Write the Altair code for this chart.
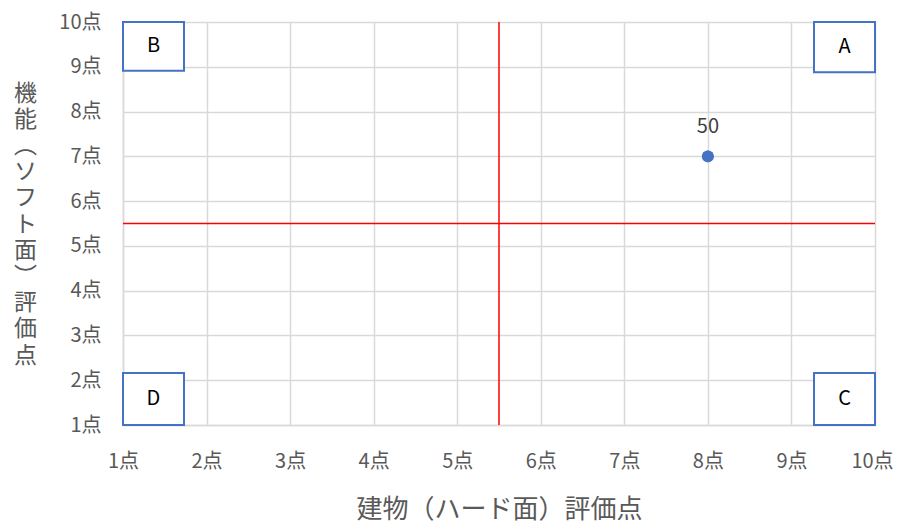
import altair as alt
import pandas as pd

# point data
pt_x = [8]
pt_y = [7]
pt_label = ["50"]

# quadrant boxes
box_names = ["A", "B", "C", "D"]
box_x1 = [9.27, 1.0, 9.27, 1.0]
box_x2 = [10.0, 1.73, 10.0, 1.73]
box_y1 = [8.88, 8.91, 1.0, 1.0]
box_y2 = [10.0, 10.0, 2.16, 2.16]

# threshold lines
vline = [5.5]
hline = [5.5]

ticks = list(range(1, 11))
x_title = "建物（ハード面）評価点"
y_title = ["機", "能", "︵", "ソ", "フ", "ト", "面", "︶", "評", "価", "点"]

FONT = "Noto Sans CJK JP"
GREY = "#595959"
GRID = "#d9d9d9"
BLUE = "#4472C4"

pts = pd.DataFrame({"x": pt_x, "y": pt_y, "label": pt_label})
boxes = pd.DataFrame({"name": box_names, "x1": box_x1, "x2": box_x2,
                      "y1": box_y1, "y2": box_y2})
boxes["cx"] = (boxes.x1 + boxes.x2) / 2
boxes["cy"] = (boxes.y1 + boxes.y2) / 2

xscale = alt.Scale(domain=[1, 10], nice=False, zero=False)
yscale = alt.Scale(domain=[1, 10], nice=False, zero=False)

xaxis = alt.Axis(values=ticks, labelExpr="datum.value + '点'", grid=True,
                 gridColor=GRID, gridWidth=1.5, domainColor=GRID, domainWidth=1.5,
                 ticks=False, labelPadding=26, labelFontSize=20, labelColor=GREY,
                 labelFont=FONT, labelFlush=False, labelOverlap=False,
                 labelOffset={"condition": {"test": "datum.value == 10", "value": -3}, "value": 0},
                 title=x_title, titleFont=FONT, titleFontSize=26,
                 titleFontWeight="normal", titleColor=GREY, titleY=84,
                 titleBaseline="middle")
yaxis = alt.Axis(values=ticks, labelExpr="datum.value + '点'", grid=True,
                 gridColor=GRID, gridWidth=1.5, domainColor=GRID, domainWidth=1.5,
                 ticks=False, labelPadding=22, labelFontSize=20, labelColor=GREY,
                 labelFont=FONT, labelFlush=False, labelOverlap=False,
                 title=y_title, titleFont=FONT, titleFontSize=23,
                 titleFontWeight="normal", titleColor=GREY, titleAngle=0,
                 titleX=-98, titleY=71, titleAlign="center",
                 titleBaseline="middle", titleLineHeight=26.2)

base_pts = alt.Chart(pts)

pt_layer = base_pts.mark_circle(size=140, color=BLUE, opacity=1).encode(
    x=alt.X("x:Q", scale=xscale, axis=xaxis),
    y=alt.Y("y:Q", scale=yscale, axis=yaxis),
)
pt_text = base_pts.mark_text(dy=-29, fontSize=20, font=FONT, color="#404040").encode(
    x=alt.X("x:Q", scale=xscale), y=alt.Y("y:Q", scale=yscale), text="label:N"
)

rects = alt.Chart(boxes).mark_rect(fill="white", stroke=BLUE, strokeWidth=2).encode(
    x=alt.X("x1:Q", scale=xscale), x2="x2:Q",
    y=alt.Y("y1:Q", scale=yscale), y2="y2:Q",
)
rect_text = alt.Chart(boxes).mark_text(fontSize=20, font=FONT, color="black").encode(
    x=alt.X("cx:Q", scale=xscale), y=alt.Y("cy:Q", scale=yscale), text="name:N"
)

vrule = alt.Chart(pd.DataFrame({"v": vline})).mark_rule(color="#FF0000", strokeWidth=1.5).encode(
    x=alt.X("v:Q", scale=xscale)
)
hrule = alt.Chart(pd.DataFrame({"h": hline})).mark_rule(color="#FF0000", strokeWidth=1.5).encode(
    y=alt.Y("h:Q", scale=yscale)
)

chart = alt.layer(pt_layer, rects, rect_text, vrule, hrule, pt_layer, pt_text).properties(
    width=752, height=403,
    autosize=alt.AutoSizeParams(type="none"),
    padding={"left": 115, "top": 14, "right": 19, "bottom": 98},
    background="white",
).configure_view(stroke=None)

chart.save("out.html", embed_options={"renderer": "svg", "actions": False})
